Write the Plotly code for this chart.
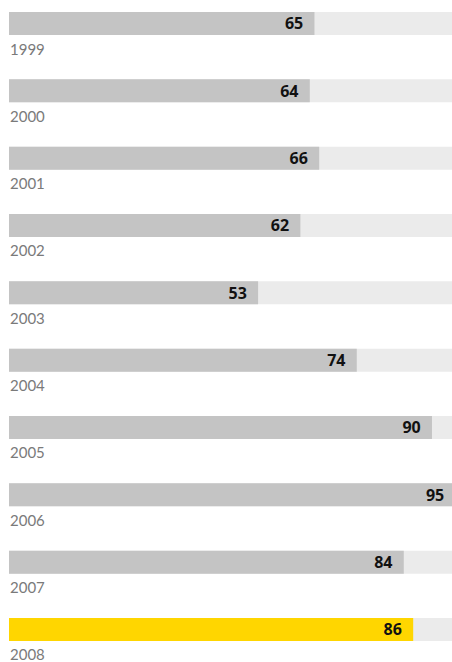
import plotly.graph_objects as go

years = ["1999", "2000", "2001", "2002", "2003", "2004", "2005", "2006", "2007", "2008"]
values = [65, 64, 66, 62, 53, 74, 90, 95, 84, 86]
track_max = 100

bar_gray = "#c4c4c4"
bar_highlight = "#ffd600"
track_color = "#ebebeb"

pos = list(range(len(years)))
colors = [bar_highlight if y == "2008" else bar_gray for y in years]

fig = go.Figure()
# full-width light track behind each bar
fig.add_trace(go.Bar(
    y=pos, x=[track_max] * len(years), orientation="h",
    marker=dict(color=track_color, line=dict(width=0)),
    width=0.342, hoverinfo="skip", showlegend=False,
))
# value bars with bold value at the inner end
fig.add_trace(go.Bar(
    y=pos, x=values, orientation="h",
    marker=dict(color=colors, line=dict(width=0)),
    width=0.342, showlegend=False,
    text=[f"<b>{v}</b>\u00a0\u00a0" for v in values],
    textposition="inside", insidetextanchor="end",
    insidetextfont=dict(family="Open Sans", size=16, color="#111111"),
    constraintext="none", textangle=0,
))

annotations = []
for p, y in zip(pos, years):
    annotations.append(dict(
        x=0, y=p, xref="x", yref="y", text=y,
        xanchor="left", yanchor="middle", yshift=-25, xshift=-1, showarrow=False,
        font=dict(family="Lato", size=15, color="#7a7a7a"),
    ))

fig.update_layout(
    width=452, height=662,
    margin=dict(l=9, r=0, t=0, b=0),
    paper_bgcolor="white", plot_bgcolor="white",
    barmode="overlay",
    uniformtext=dict(mode=False),
    xaxis=dict(range=[0, 94.26], visible=False, fixedrange=True),
    yaxis=dict(range=[9.483, -0.349], visible=False, fixedrange=True),
    annotations=annotations,
)

fig.write_html("out.html")
